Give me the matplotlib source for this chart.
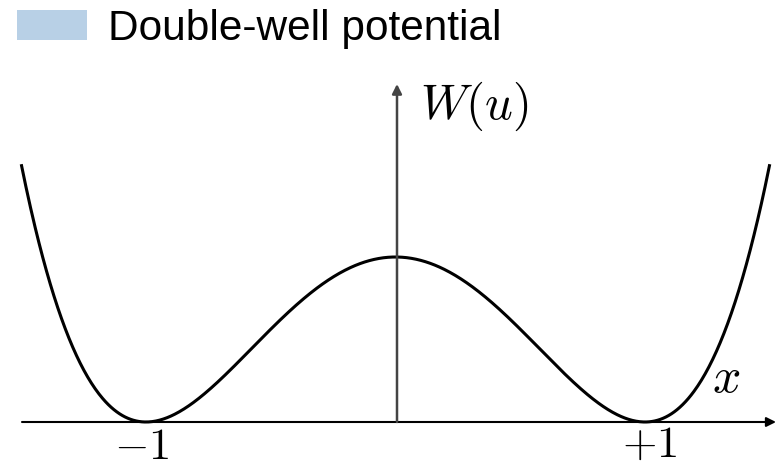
import numpy as np
import matplotlib
matplotlib.use("Agg")
import matplotlib.pyplot as plt
from matplotlib.patches import Patch

plt.rcParams["mathtext.fontset"] = "cm"

# Double-well potential W(u) = h * (1 - u^2)^2 with wells at u = -1, +1
well_positions = [-1.0, 1.0]
barrier_height = 1.0
u_range = (-1.5, 1.5)
tick_labels = [r"$-1$", r"$+1$"]
legend_label = "Double-well potential"

u = np.linspace(u_range[0], u_range[1], 801)
w = barrier_height * (1.0 - (u / well_positions[1]) ** 2) ** 2

W_PX, H_PX, DPI = 779, 469, 100
fig = plt.figure(figsize=(W_PX / DPI, H_PX / DPI), dpi=DPI)
ax = fig.add_axes([0, 0, 1, 1])
ax.set_axis_off()

# pixel layout of the drawing
x0_px, unit_px = 395.5, 249.5
y0_px, hunit_px = 422.0, 165.0
ax.set_xlim(-x0_px / unit_px, (W_PX - x0_px) / unit_px)
ax.set_ylim((y0_px - H_PX) / hunit_px, y0_px / hunit_px)

def px(xp, yp):
    return (xp - x0_px) / unit_px, (y0_px - yp) / hunit_px

# potential curve
ax.plot(u, w, color="black", lw=2.2, solid_capstyle="butt", zorder=3)

# horizontal axis with arrow
ax.annotate("", xy=px(776, 422), xytext=px(22, 422),
            arrowprops=dict(arrowstyle="-|>", color="black", lw=1.5,
                            mutation_scale=14, shrinkA=0, shrinkB=0))
# vertical axis with arrow
ax.annotate("", xy=px(397, 84), xytext=px(397, 422),
            arrowprops=dict(arrowstyle="-|>", color="#444444", lw=1.8,
                            mutation_scale=14, shrinkA=0, shrinkB=0))

# labels
ax.text(*px(420, 106), r"$W(u)$", fontsize=35, ha="left", va="center")
ax.text(*px(726, 378), r"$x$", fontsize=36, ha="center", va="center")
for pos, lab, xp, yp in zip(well_positions, tick_labels, [142, 650], [446, 444]):
    ax.text((xp - x0_px) / unit_px, (y0_px - yp) / hunit_px, lab,
            fontsize=32, ha="center", va="center")

# legend entry
handle = Patch(facecolor="#b8d0e6", edgecolor="none", label=legend_label)
fig.legend(handles=[handle], loc="upper left",
           bbox_to_anchor=(17 / W_PX, 1 - 9 / H_PX),
           frameon=False, prop={"family": "Liberation Sans", "size": 30.5},
           handlelength=1.65, handleheight=0.71, handletextpad=0.5,
           borderpad=0, borderaxespad=0)

fig.savefig("out.png", dpi=DPI)
